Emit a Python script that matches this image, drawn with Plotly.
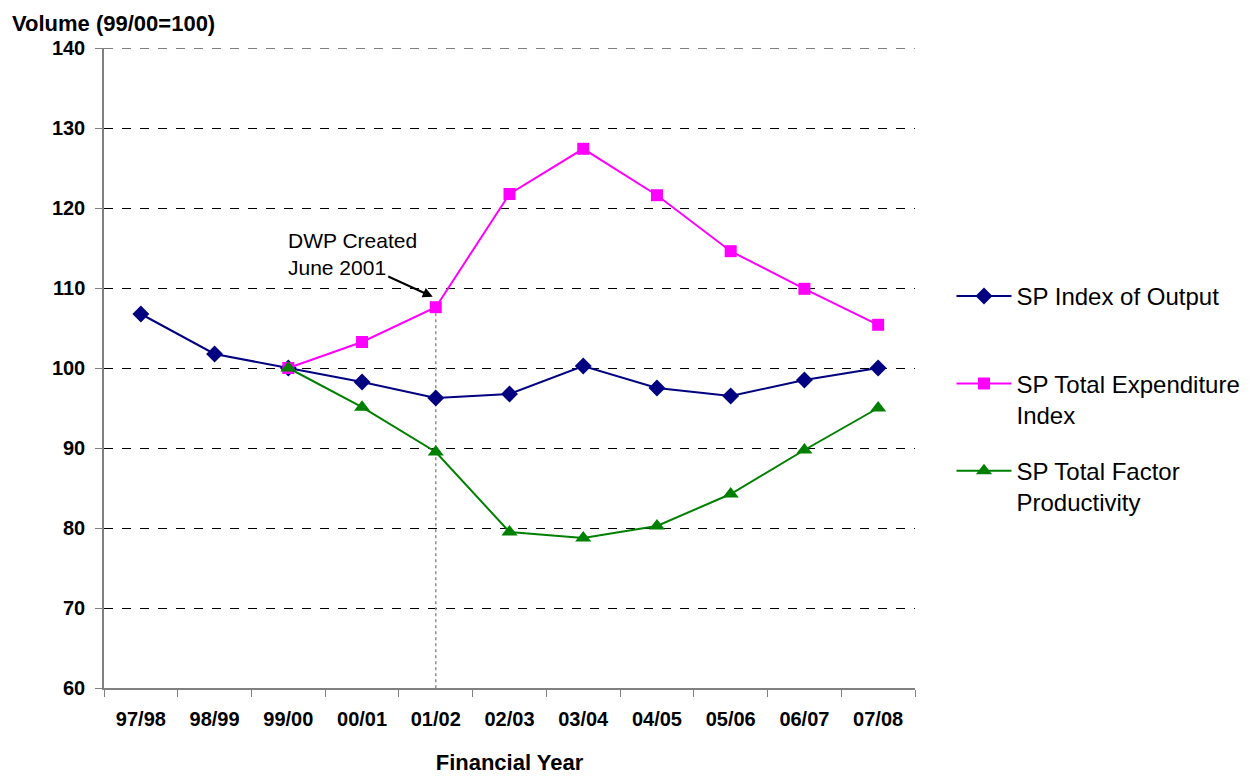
import plotly.graph_objects as go

years = ["97/98", "98/99", "99/00", "00/01", "01/02", "02/03", "03/04", "04/05", "05/06", "06/07", "07/08"]
output_index = [106.75, 101.75, 100.0, 98.25, 96.25, 96.75, 100.25, 97.5, 96.5, 98.5, 100.0]
exp_years = years[2:]
expenditure_index = [100.0, 103.25, 107.6, 121.75, 127.4, 121.6, 114.6, 109.9, 105.4]
tfp_years = years[2:]
tfp_index = [100.0, 95.1, 89.5, 79.5, 78.75, 80.25, 84.25, 89.75, 95.0]
y_ticks = [60, 70, 80, 90, 100, 110, 120, 130, 140]
created_year = "01/02"
created_value = expenditure_index[exp_years.index(created_year)]

FONT = "Liberation Sans, Arial, sans-serif"

fig = go.Figure()

# dotted guide line from the DWP creation point down to the axis
fig.add_trace(go.Scatter(
    x=[created_year, created_year], y=[created_value, y_ticks[0] - 0.6],
    mode="lines", line=dict(color="#909090", width=1.5, dash="dot"),
    showlegend=False, hoverinfo="skip", cliponaxis=False))

fig.add_trace(go.Scatter(
    x=years, y=output_index, name="SP Index of Output<br>&nbsp;",
    legendgroup="a", mode="lines+markers",
    line=dict(color="#000080", width=2),
    marker=dict(symbol="diamond", size=13, color="#000080")))
fig.add_trace(go.Scatter(
    x=exp_years, y=expenditure_index, name="SP Total Expenditure<br>Index",
    legendgroup="b", mode="lines+markers",
    line=dict(color="#FF00FF", width=2),
    marker=dict(symbol="square", size=12, color="#FF00FF")))
fig.add_trace(go.Scatter(
    x=tfp_years, y=tfp_index, name="SP Total Factor<br>Productivity",
    legendgroup="c", mode="lines+markers",
    line=dict(color="#008000", width=2),
    marker=dict(symbol="triangle-up", size=14, color="#008000")))

fig.update_layout(
    width=1249, height=768,
    margin=dict(l=96, r=342, t=40, b=88),
    paper_bgcolor="white", plot_bgcolor="white",
    font=dict(family=FONT, color="black", size=20),
    showlegend=True,
    legend=dict(
        x=1.045, y=0.647, xanchor="left", yanchor="top",
        font=dict(family=FONT, size=24, color="black"),
        valign="top", traceorder="grouped", tracegroupgap=22,
        itemwidth=55, bgcolor="rgba(0,0,0,0)"),
    xaxis=dict(
        type="category", categoryorder="array", categoryarray=years,
        range=[-0.5, len(years) - 0.5], automargin=False,
        showline=True, linecolor="#808080", linewidth=1.5,
        ticks="outside", tickson="boundaries", ticklen=7, tickcolor="#808080",
        showgrid=False, zeroline=False, ticklabelstandoff=12,
        tickfont=dict(family=FONT, size=20, weight="bold", color="black"),
        title=dict(text="Financial Year", standoff=26,
                   font=dict(family=FONT, size=22, weight="bold", color="black"))),
    yaxis=dict(
        range=[y_ticks[0], y_ticks[-1]], tickvals=y_ticks, automargin=False,
        showline=True, linecolor="#808080", linewidth=1.5,
        ticks="outside", ticklen=7, tickcolor="#808080",
        showgrid=True, gridcolor="black", gridwidth=1, griddash="dash",
        zeroline=False, ticklabelstandoff=6,
        tickfont=dict(family=FONT, size=20, weight="bold", color="black")),
    shapes=[
        dict(type="line", xref="paper", x0=0, x1=1, yref="y",
             y0=y_ticks[-1], y1=y_ticks[-1],
             line=dict(color="black", width=1, dash="dash"), layer="below"),
    ],
    annotations=[
        dict(text="Volume (99/00=100)", xref="paper", yref="paper",
             x=-0.1163, y=1.0615, xanchor="left", yanchor="top", showarrow=False,
             font=dict(family=FONT, size=22, weight="bold", color="black")),
        dict(text="DWP Created<br>June 2001", xref="paper", yref="paper",
             x=0.2245, y=0.7203, xanchor="left", yanchor="top", align="left",
             showarrow=False,
             font=dict(family=FONT, size=21, color="black")),
        dict(text="", x=created_year, y=108.9, xref="x", yref="y",
             showarrow=True, ax=-46, ay=-21, arrowhead=2, arrowsize=1,
             arrowwidth=2, arrowcolor="black", standoff=0, xshift=-3),
    ],
)

fig.write_html("out.html")
